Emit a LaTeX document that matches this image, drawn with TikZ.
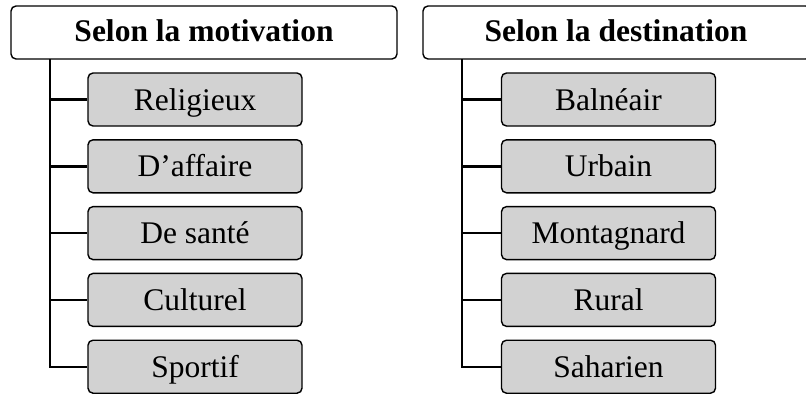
\documentclass[tikz,border=0pt]{standalone}
\usepackage{fontspec}
\setmainfont{Liberation Serif}
\begin{document}
\begin{tikzpicture}[x=1pt,y=-1pt,
  header/.style={draw=black, line width=1.4pt, rounded corners=5pt, fill=white,
    minimum width=386pt, minimum height=53pt, inner sep=0pt,
    text height=22pt, text depth=3.6pt,
    font=\fontsize{31.5}{36}\selectfont\bfseries},
  item/.style={draw=black, line width=1.4pt, rounded corners=5pt, fill=itemgray,
    minimum width=214pt, minimum height=53pt, inner sep=0pt,
    text height=22pt, text depth=1pt,
    font=\fontsize{31.5}{36}\selectfont},
  link/.style={draw=black, line width=2.4pt}]
\definecolor{itemgray}{RGB}{210,210,210}
\useasboundingbox (0,0) rectangle (806,394);

% left column
\node[header] (hm) at (204,32.5) {Selon la motivation};
\foreach \t [count=\i] in {Religieux, D’affaire, De santé, Culturel, Sportif}{
  \node[item] (m\i) at (195,{99.5+66.8*(\i-1)}) {\t};
}
\coordinate (tm) at (50,59);
\draw[link] (tm) |- (m5.west);
\foreach \i in {1,...,4}{ \draw[link] (tm |- m\i.west) -- (m\i.west); }

% right column
\node[header, minimum width=388pt] (hd) at (617,32.5) {\hspace*{-2pt}Selon la destination};
\foreach \t [count=\i] in {Balnéair, Urbain, Montagnard, Rural, Saharien}{
  \node[item] (d\i) at (608.5,{99.5+66.8*(\i-1)}) {\t};
}
\coordinate (td) at (462,59);
\draw[link] (td) |- (d5.west);
\foreach \i in {1,...,4}{ \draw[link] (td |- d\i.west) -- (d\i.west); }
\end{tikzpicture}
\end{document}
